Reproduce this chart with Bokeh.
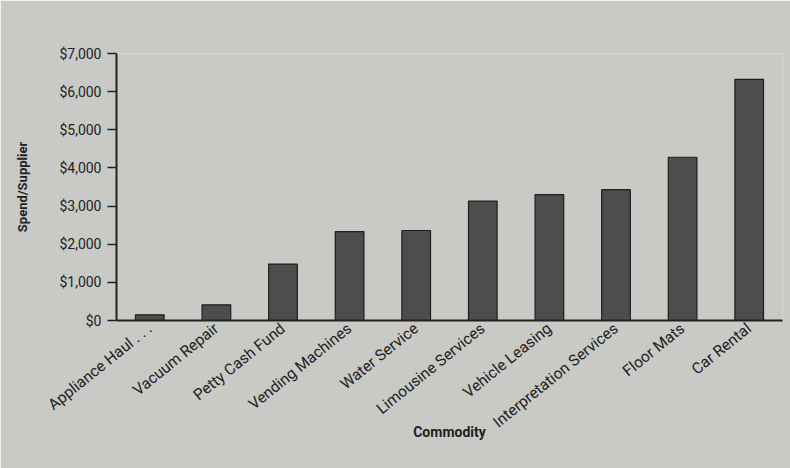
from bokeh.plotting import figure
from bokeh.models import NumeralTickFormatter, FixedTicker, Range1d
from bokeh.embed import file_html
from bokeh.resources import INLINE
import math

# Average spend per supplier by commodity
commodities = [
    "Appliance Haul . . .", "Vacuum Repair", "Petty Cash Fund", "Vending Machines",
    "Water Service", "Limousine Services", "Vehicle Leasing",
    "Interpretation Services", "Floor Mats", "Car Rental",
]
spend_per_supplier = [150, 410, 1480, 2330, 2360, 3130, 3300, 3430, 4280, 6320]
y_ticks = [0, 1000, 2000, 3000, 4000, 5000, 6000, 7000]

FONT = "Roboto"
INK = "#222222"
PAPER = "#c9c9c6"

p = figure(
    x_range=commodities, y_range=Range1d(0, 7000),
    width=790, height=468,
    min_border_left=116, min_border_right=8, min_border_top=53, min_border_bottom=148,
    output_backend="svg", toolbar_location=None,
    background_fill_color=PAPER, border_fill_color=PAPER,
)
p.x_range.range_padding = 0

p.vbar(x=commodities, top=spend_per_supplier, width=0.43,
       fill_color="#4d4d4d", line_color="#1e1e1e", line_width=1.2)

p.outline_line_color = None
p.xgrid.visible = False
p.ygrid.visible = False

# value axis
p.yaxis.ticker = FixedTicker(ticks=y_ticks)
p.yaxis.formatter = NumeralTickFormatter(format="$0,0")
p.yaxis.major_tick_in = 0
p.yaxis.major_tick_out = 9
p.yaxis.minor_tick_line_color = None
p.yaxis.axis_line_width = 2
p.yaxis.axis_line_color = INK
p.yaxis.major_tick_line_color = INK
p.yaxis.major_tick_line_width = 1.5
p.yaxis.major_label_text_font = FONT
p.yaxis.major_label_text_font_size = "14px"
p.yaxis.major_label_text_color = INK
p.yaxis.major_label_standoff = 6
p.yaxis.axis_label = "Spend/Supplier"
p.yaxis.axis_label_text_font = FONT
p.yaxis.axis_label_text_font_style = "bold"
p.yaxis.axis_label_text_font_size = "13px"
p.yaxis.axis_label_text_color = INK
p.yaxis.axis_label_standoff = 26

# category axis
p.xaxis.major_tick_out = 0
p.xaxis.major_tick_in = 0
p.xaxis.axis_line_width = 2
p.xaxis.axis_line_color = INK
p.xaxis.major_label_orientation = math.radians(39)
p.xaxis.major_label_text_font = FONT
p.xaxis.major_label_text_font_size = "15.5px"
p.xaxis.major_label_text_color = INK
p.xaxis.major_label_standoff = 6
p.xaxis.axis_label = "Commodity"
p.xaxis.axis_label_text_font = FONT
p.xaxis.axis_label_text_font_style = "bold"
p.xaxis.axis_label_text_font_size = "14px"
p.xaxis.axis_label_text_color = INK
p.xaxis.axis_label_standoff = -17

open("out.html", "w").write(file_html(p, INLINE))
